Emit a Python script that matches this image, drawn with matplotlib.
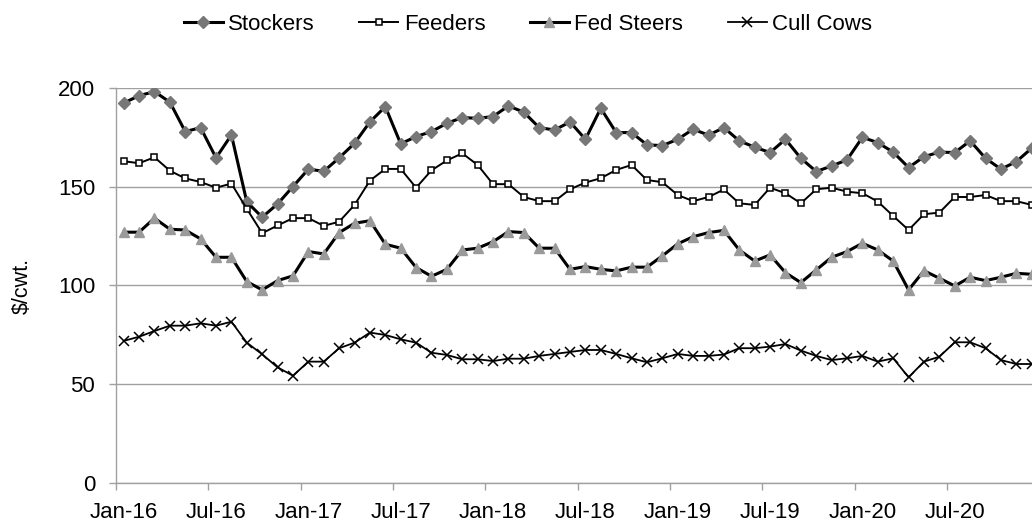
import numpy as np
import matplotlib
matplotlib.use("Agg")
import matplotlib.pyplot as plt
from matplotlib.ticker import FixedLocator

plt.rcParams.update({"font.family": ["Liberation Sans", "DejaVu Sans"]})

# monthly prices, Jan-16 .. Dec-20 ($/cwt.)
months = [f"{m}-{y}" for y in range(16, 21) for m in
          ["Jan", "Feb", "Mar", "Apr", "May", "Jun",
           "Jul", "Aug", "Sep", "Oct", "Nov", "Dec"]]

stockers = [192.2, 196.0, 198.0, 192.7, 177.8, 179.8, 164.5, 176.1, 142.2, 134.5,
            141.2, 150.0, 158.8, 157.7, 164.5, 171.9, 182.7, 190.4, 171.6, 175.3,
            177.8, 182.0, 184.9, 184.5, 185.4, 190.8, 187.6, 179.8, 178.6, 182.7,
            173.9, 189.6, 177.3, 177.3, 171.1, 170.7, 173.9, 179.0, 176.0, 179.8,
            173.1, 169.9, 167.2, 173.9, 164.3, 157.6, 160.4, 163.5, 174.9, 172.2,
            167.4, 159.6, 165.1, 167.4, 167.2, 173.1, 164.3, 158.8, 162.6, 169.4]

feeders = [162.8, 161.8, 164.8, 158.0, 154.1, 152.3, 149.4, 151.5, 138.7, 126.4,
           130.3, 134.0, 134.0, 130.1, 132.2, 140.7, 153.0, 158.9, 158.9, 149.4,
           158.2, 163.2, 166.8, 160.9, 151.2, 151.2, 144.7, 142.6, 142.6, 148.6,
           152.0, 154.2, 158.4, 160.9, 153.3, 152.2, 145.7, 142.6, 144.7, 148.5,
           141.5, 140.7, 149.4, 146.6, 141.5, 148.6, 149.4, 147.4, 146.6, 142.4,
           135.1, 128.0, 136.0, 136.8, 144.7, 144.7, 145.7, 142.6, 142.6, 140.7]

fed_steers = [126.9, 126.9, 134.0, 128.4, 128.0, 123.5, 114.2, 114.2, 101.9, 97.7,
              102.4, 104.8, 117.1, 115.9, 126.7, 131.4, 132.7, 120.8, 118.8, 109.0,
              104.6, 108.1, 117.9, 118.8, 122.1, 127.2, 126.7, 118.8, 118.8, 108.1,
              109.5, 108.1, 107.3, 109.2, 109.2, 114.9, 121.0, 124.6, 126.7, 127.8,
              117.9, 112.3, 115.4, 106.4, 101.4, 107.8, 114.2, 117.1, 121.3, 117.9,
              112.3, 97.7, 107.4, 103.6, 99.7, 104.1, 102.4, 104.1, 106.1, 105.6]

cull_cows = [71.9, 74.0, 76.9, 79.6, 79.6, 80.8, 79.6, 81.6, 71.0, 65.1,
             58.5, 54.3, 61.4, 61.4, 68.2, 71.0, 76.1, 74.9, 72.7, 71.0,
             65.9, 64.8, 62.6, 62.6, 61.7, 62.9, 62.9, 64.3, 65.3, 66.3,
             67.3, 67.3, 65.3, 63.1, 61.1, 63.1, 65.3, 64.3, 64.3, 65.0,
             68.2, 68.2, 69.0, 70.3, 67.0, 64.3, 62.2, 63.1, 64.3, 61.4,
             63.1, 53.5, 61.4, 63.9, 71.2, 71.2, 68.2, 62.2, 60.2, 60.2]

x = np.arange(len(months))

fig = plt.figure(figsize=(10.32, 5.21), dpi=100)
# plot area runs a little past the right edge, as in the source image
ax = fig.add_axes([116 / 1032, 38 / 521, 923.4 / 1032, 395.3 / 521])

ax.plot(x, stockers, color="black", lw=2.2, marker="D", ms=6.5,
        mfc="#777777", mec="#777777", label="Stockers")
ax.plot(x, feeders, color="black", lw=1.4, marker="s", ms=4.8,
        mfc="white", mec="black", mew=1.1, label="Feeders")
ax.plot(x, fed_steers, color="black", lw=2.2, marker="^", ms=7.5,
        mfc="#9a9a9a", mec="#9a9a9a", label="Fed Steers")
ax.plot(x, cull_cows, color="black", lw=1.3, marker="x", ms=6.5,
        mew=1.1, label="Cull Cows")

ax.set_xlim(-0.5, len(months) - 0.5)
ax.set_ylim(0, 200)
ax.set_yticks([0, 50, 100, 150, 200])
ax.yaxis.grid(True, color="#a0a0a0", lw=1)
ax.set_axisbelow(True)

ax.set_xticks(x[::6])
ax.set_xticklabels(months[::6])
ax.xaxis.set_minor_locator(FixedLocator(np.arange(-0.5, len(months), 6)))
ax.tick_params(axis="x", which="major", length=0, pad=13.5, labelsize=16)
ax.tick_params(axis="x", which="minor", length=5, color="#a0a0a0", width=1)
ax.tick_params(axis="y", length=5, color="#a0a0a0", width=1, pad=10, labelsize=16)

for side in ["top", "right"]:
    ax.spines[side].set_visible(False)
for side in ["left", "bottom"]:
    ax.spines[side].set_color("#a0a0a0")
    ax.spines[side].set_linewidth(1)

fig.text(22 / 1032, 1 - 286 / 521, "$/cwt.", rotation=90, fontsize=15.5,
         ha="center", va="center")

fig.legend(loc="center", bbox_to_anchor=(528 / 1032, 1 - 24 / 521), ncol=4,
           frameon=False, fontsize=16, handlelength=1.75, handletextpad=0.25,
           columnspacing=2.0)

fig.savefig("out.png", dpi=100)
